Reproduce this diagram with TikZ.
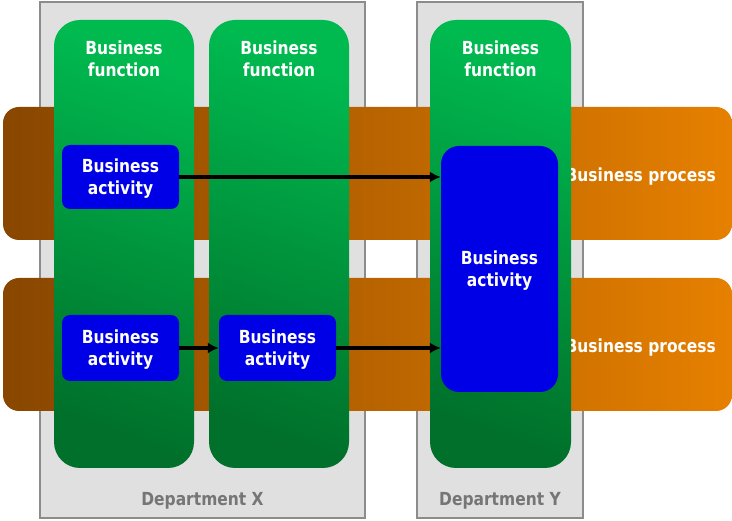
\documentclass[tikz,border=0pt]{standalone}
\usepackage{fontspec}
\setmainfont{DejaVu Sans}[FakeStretch=0.86]
\usetikzlibrary{arrows.meta}

\definecolor{deptfill}{RGB}{224,224,224}
\definecolor{deptline}{RGB}{140,140,140}
\definecolor{depttext}{RGB}{118,118,118}
\definecolor{procdark}{RGB}{136,70,0}
\definecolor{proclight}{RGB}{230,128,0}
\definecolor{fntop}{RGB}{0,186,80}
\definecolor{fnbottom}{RGB}{0,112,42}
\definecolor{actblue}{RGB}{0,0,230}

\tikzset{
  lbl/.style={font=\fontsize{18}{22}\selectfont\bfseries, align=center, inner sep=0pt},
  dept/.style={draw=deptline, line width=1.2pt, fill=deptfill, inner sep=0pt,
    minimum height=516pt},
  process/.style={rounded corners=16pt, left color=procdark, right color=proclight,
    inner sep=0pt, minimum width=729pt, minimum height=133pt},
  function/.style={rounded corners=26pt, top color=fntop, bottom color=fnbottom,
    shading angle=-20, inner sep=0pt, minimum width=140pt, minimum height=448pt},
  activity/.style={fill=actblue, rounded corners=8pt, inner sep=0pt,
    minimum width=117pt, minimum height=65pt},
  flow/.style={line width=3.4pt, -{Latex[length=11pt,width=11pt]}},
}

\begin{document}
\begin{tikzpicture}[x=1pt, y=-1pt]
\useasboundingbox (0,0) rectangle (732,521);

% departments
\node[dept, minimum width=325pt] (deptx) at (202.5,260) {};
\node[dept, minimum width=166pt] (depty) at (500,260) {};

% business processes
\node[process] (proc1) at (367.5,173.5) {};
\node[process] (proc2) at (367.5,344.5) {};
\node[lbl, text=white, anchor=east] (proc1txt) at (716,177) {Business process};
\node[lbl, text=white, anchor=east] (proc2txt) at (716,348) {Business process};

% business functions
\node[function] (fn1) at (124,244) {};
\node[function] (fn2) at (279,244) {};
\node[function, minimum width=141pt] (fn3) at (500.5,244) {};
\node[lbl, text=white] (fn1txt) at (124,59) {Business\\function};
\node[lbl, text=white] (fn2txt) at (279,59) {Business\\function};
\node[lbl, text=white] (fn3txt) at (500.5,59) {Business\\function};

% business activities
\node[activity, minimum height=64pt] (act1) at (120.5,177) {};
\node[activity, minimum height=66pt] (act2) at (120.5,348) {};
\node[activity, minimum height=66pt] (act3) at (277.5,348) {};
\node[activity, minimum height=246pt, rounded corners=18pt] (act4) at (499.5,269) {};
\node[lbl, text=white] (act1txt) at (120.5,179) {Business\\activity};
\node[lbl, text=white] (act2txt) at (120.5,350) {Business\\activity};
\node[lbl, text=white] (act3txt) at (277.5,350) {Business\\activity};
\node[lbl, text=white] (act4txt) at (499.5,271) {Business\\activity};

% flows between activities
\draw[flow] (act1.east) -- (act1.east -| act4.west);
\draw[flow] (act2.east) -- (act3.west);
\draw[flow] (act3.east) -- (act3.east -| act4.west);

% department names
\node[lbl, text=depttext] (deptxtxt) at (202.5,501) {Department X};
\node[lbl, text=depttext] (deptytxt) at (500,501) {Department Y};
\end{tikzpicture}
\end{document}
